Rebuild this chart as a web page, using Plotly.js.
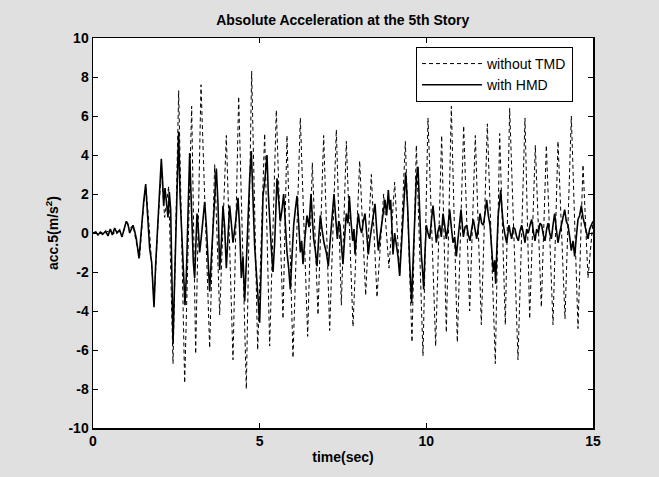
<!DOCTYPE html>
<html><head><meta charset="utf-8">
<script src="https://cdn.plot.ly/plotly-3.0.1.min.js"></script>
<style>html,body{margin:0;padding:0;background:#e0e0e0}</style>
</head><body><div id="chart" style="width:659px;height:477px"></div>
<script>
// without TMD (dashed)
const tWithout = [0,0.15,0.3,0.45,0.6,0.75,0.9,1.0,1.1,1.2,1.3,1.4,1.5,1.58,1.7,1.83,1.95,2.05,2.15,2.27,
  2.4,2.57,2.75,2.96,3.08,3.24,3.5,3.65,3.8,4.0,4.2,4.37,4.6,4.76,4.94,5.15,5.3,5.5,5.7,5.82,
  6.0,6.22,6.44,6.58,6.75,6.92,7.1,7.3,7.45,7.6,7.8,8.0,8.18,8.35,8.52,8.72,8.88,9.05,9.2,9.37,
  9.57,9.7,9.9,10.05,10.28,10.46,10.6,10.75,10.93,11.12,11.3,11.47,11.65,11.83,12.07,12.2,12.37,12.5,12.75,12.96,
  13.1,13.27,13.45,13.6,13.8,13.95,14.16,14.35,14.55,14.7,14.85,15.0];
const accWithout = [0,0.05,-0.1,0.1,-0.05,0.1,0.0,0.6,0.2,0.4,-0.5,-1.2,1.0,2.5,0.0,-3.6,0.5,3.2,0.8,2.4,
  -6.7,7.3,-7.7,6.5,-6.2,7.6,-5.9,3.5,-4.2,5.0,-6.5,7.0,-8.0,8.3,-6.0,5.1,-5.8,6.3,-4.4,5.0,
  -6.4,5.9,-5.3,3.6,-4.2,5.0,-5.0,5.3,-3.7,4.7,-4.8,3.7,-3.2,3.0,-3.3,2.0,-1.8,2.6,-2.2,4.7,
  -5.6,4.5,-6.3,5.9,-5.8,5.0,-5.1,6.5,-5.6,5.5,-4.0,5.0,-4.7,5.6,-6.7,5.1,-4.7,6.4,-6.5,5.9,
  -4.4,4.5,-3.8,4.5,-4.7,4.7,-4.4,6.0,-4.9,3.5,-2.3,0.6];

// with HMD (solid)
const tWith = [0,0.08,0.15,0.22,0.3,0.38,0.45,0.52,0.58,0.65,0.72,0.8,0.87,0.93,1.0,1.05,1.1,1.15,1.2,1.25,
  1.3,1.38,1.45,1.52,1.58,1.64,1.7,1.76,1.83,1.88,1.93,1.99,2.05,2.09,2.12,2.16,2.2,2.25,2.29,2.33,
  2.37,2.4,2.44,2.48,2.52,2.57,2.61,2.65,2.7,2.76,2.8,2.85,2.9,2.94,2.97,3.01,3.05,3.09,3.12,3.16,
  3.2,3.25,3.3,3.35,3.4,3.45,3.5,3.55,3.6,3.65,3.7,3.75,3.8,3.85,3.9,3.95,4.0,4.05,4.1,4.15,
  4.2,4.28,4.35,4.4,4.45,4.5,4.55,4.6,4.65,4.7,4.75,4.8,4.85,4.9,4.95,5.0,5.05,5.1,5.16,5.22,
  5.26,5.3,5.35,5.4,5.45,5.52,5.57,5.62,5.67,5.72,5.77,5.82,5.87,5.92,5.97,6.02,6.07,6.12,6.17,6.22,
  6.26,6.3,6.36,6.42,6.48,6.54,6.58,6.62,6.67,6.72,6.77,6.82,6.87,6.93,7.0,7.06,7.11,7.16,7.2,7.23,
  7.28,7.33,7.37,7.41,7.46,7.5,7.55,7.6,7.65,7.69,7.74,7.79,7.83,7.86,7.91,7.96,8.01,8.06,8.11,8.16,
  8.21,8.26,8.31,8.36,8.41,8.46,8.51,8.56,8.61,8.66,8.71,8.76,8.81,8.86,8.9,8.93,8.97,9.0,9.05,9.1,
  9.15,9.2,9.25,9.3,9.34,9.38,9.41,9.44,9.5,9.56,9.59,9.62,9.66,9.7,9.75,9.8,9.85,9.89,9.92,9.96,
  10.0,10.05,10.1,10.15,10.2,10.25,10.3,10.35,10.4,10.45,10.5,10.55,10.6,10.65,10.7,10.75,10.8,10.85,10.9,10.95,
  11.0,11.04,11.08,11.11,11.16,11.21,11.26,11.31,11.36,11.41,11.46,11.51,11.56,11.61,11.66,11.71,11.76,11.81,11.86,11.91,
  11.96,12.01,12.05,12.08,12.12,12.16,12.2,12.23,12.27,12.31,12.36,12.41,12.45,12.48,12.52,12.56,12.61,12.66,12.71,12.76,
  12.81,12.86,12.91,12.96,13.01,13.06,13.11,13.16,13.21,13.26,13.31,13.36,13.41,13.46,13.51,13.56,13.61,13.65,13.7,13.75,
  13.8,13.85,13.9,13.95,14.0,14.05,14.1,14.15,14.2,14.25,14.3,14.35,14.4,14.45,14.5,14.55,14.6,14.65,14.7,14.75,
  14.8,14.85,14.9,14.95,15.0];
const accWith = [0,0.05,-0.1,0.05,-0.05,0.1,-0.15,0.2,-0.1,0.25,0.0,0.15,-0.2,0.2,0.6,0.45,0.0,0.2,0.4,0.1,
  -0.3,-1.3,0.4,1.6,2.5,0.9,-0.8,-1.5,-3.8,-1.6,0.2,2.0,3.8,2.6,1.4,2.3,1.6,0.8,2.1,1.2,
  -2.5,-5.7,-3.0,-0.8,2.2,5.2,2.0,0.4,-1.8,-3.7,-2.2,1.5,4.1,2.0,0.5,-1.5,-2.3,-0.4,1.0,0.2,
  -1.0,-0.2,0.6,1.6,0.4,-1.2,-3.0,-1.3,0.2,1.8,3.3,1.5,-1.9,-0.5,1.4,0.3,-1.8,-0.2,1.4,0.5,
  -0.5,0.6,1.8,0.2,-2.3,-1.2,-3.5,-1.5,0.8,2.8,4.2,1.5,-0.7,-2.0,-3.4,-4.6,-1.5,1.9,2.8,4.0,
  2.0,0.4,-0.8,-2.0,-0.5,2.8,1.6,0.6,1.2,2.0,0.5,-1.0,-1.8,-2.9,-1.2,0.4,1.2,1.9,0.5,-1.0,
  -0.4,-1.6,-0.2,0.9,0.3,2.0,0.8,-0.3,-0.9,-1.7,-0.3,0.9,0.2,-0.5,-1.0,-1.7,-0.5,0.4,1.2,2.0,
  0.8,-0.3,0.6,0.4,-0.8,-1.6,-0.2,1.0,0.5,1.9,0.6,-0.4,0.2,-1.1,0.0,1.0,0.3,0.0,0.6,1.0,
  0.0,-1.1,-0.3,0.4,0.9,1.5,0.2,-0.9,-0.2,0.4,1.0,1.7,0.9,2.2,1.2,1.7,0.2,-1.1,0.0,-0.5,
  -1.2,-2.2,-0.6,1.0,2.0,3.1,2.2,1.3,-1.5,-3.6,-2.0,-0.4,1.4,2.8,3.4,1.0,-1.1,-2.0,-2.9,-1.0,
  0.4,0.0,-0.3,0.6,1.4,0.5,-0.5,0.1,0.4,-0.2,1.0,0.4,-0.3,0.3,1.2,0.3,-0.5,-0.2,-1.2,-0.3,
  0.7,1.2,0.4,-0.2,0.3,0.4,-0.1,-0.4,0.2,0.7,0.2,-0.3,0.3,1.0,0.5,0.4,1.0,1.7,0.9,0.4,
  -0.8,-2.0,-1.4,-2.6,-0.6,1.0,1.6,2.2,1.2,0.4,-0.1,-0.5,0.0,0.4,0.0,-0.3,0.3,0.2,-0.2,-0.4,
  0.1,0.4,0.0,-0.5,0.2,0.0,0.4,0.7,0.1,-0.4,0.2,0.0,0.5,0.4,-0.1,-0.4,0.2,0.5,0.0,-0.3,
  0.4,1.0,0.2,-0.5,0.0,0.4,0.8,1.2,0.6,0.4,-0.2,-0.9,-0.4,-1.2,-0.2,0.7,0.9,1.4,0.8,0.4,
  0.0,-0.3,0.2,0.4,0.6];

const xTickVals = [0,5,10,15];
const xTickText = ['0','5','10','15'];
const yTickVals = [-10,-8,-6,-4,-2,0,2,4,6,8,10];
const yTickText = ['-10','-8','-6','-4','-2','0','2','4','6','8','10'];
const seriesNames = ['without TMD','with HMD'];

const FONT = 'Liberation Sans, Arial, Helvetica, sans-serif';

const traces = [
  {x: tWithout, y: accWithout, name: seriesNames[0], type: 'scatter', mode: 'lines',
   line: {color: '#000', width: 1, dash: '4px,3px'}},
  {x: tWith, y: accWith, name: seriesNames[1], type: 'scatter', mode: 'lines',
   line: {color: '#000', width: 1.6}}
];

const axisCommon = {
  showgrid: false, zeroline: false, showline: true, linecolor: '#000', linewidth: 1.5,
  ticks: 'inside', ticklen: 5, tickwidth: 1, tickcolor: '#000', mirror: 'ticks',
  tickfont: {family: FONT, size: 14, color: '#000', weight: 'bold'}
};

const layout = {
  width: 659, height: 477,
  paper_bgcolor: '#e0e0e0', plot_bgcolor: '#ffffff',
  margin: {l: 93, r: 66, t: 38, b: 49},
  showlegend: true,
  title: {text: 'Absolute Acceleration at the 5th Story', x: 0.52, xanchor: 'center', y: 0.958, yanchor: 'middle',
          font: {family: FONT, size: 14, color: '#000', weight: 'bold'}},
  xaxis: Object.assign({}, axisCommon, {range: [0, 15], tickvals: xTickVals, ticktext: xTickText,
          title: {text: 'time(sec)', standoff: 4, font: {family: FONT, size: 14, color: '#000', weight: 'bold'}}}),
  yaxis: Object.assign({}, axisCommon, {range: [-10, 10], tickvals: yTickVals, ticktext: yTickText,
          title: {text: 'acc.5(m/s<sup>2</sup>)', standoff: 6, font: {family: FONT, size: 14, color: '#000', weight: 'bold'}}}),
  legend: {x: 0.646, y: 0.977, xanchor: 'left', yanchor: 'top', bgcolor: '#fff', bordercolor: '#000', borderwidth: 1,
           font: {family: FONT, size: 14, color: '#000'}, tracegroupgap: 0, itemwidth: 60}
};

Plotly.newPlot('chart', traces, layout, {displayModeBar: false, staticPlot: true});
</script></body></html>
